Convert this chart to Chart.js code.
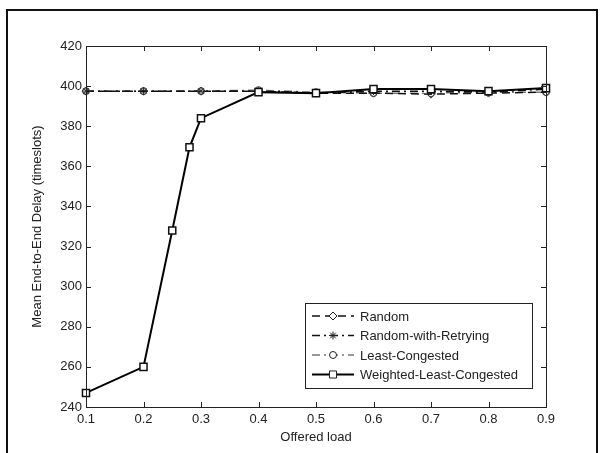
<!DOCTYPE html>
<html>
<head>
<meta charset="UTF-8">
<title>Mean End-to-End Delay</title>
<script src="https://cdn.jsdelivr.net/npm/chart.js"></script>
<style>
  body { margin: 0; background: #fff; }
</style>
</head>
<body>
<canvas id="chart" width="601" height="453"></canvas>
<script>
// offered load values
const loads = [0.1, 0.2, 0.3, 0.4, 0.5, 0.6, 0.7, 0.8, 0.9];
const wlcLoads = [0.1, 0.2, 0.25, 0.28, 0.3, 0.4, 0.5, 0.6, 0.7, 0.8, 0.9];

// mean end-to-end delay (timeslots)
const randomDelay = [397.5, 397.5, 397.5, 397.5, 396.5, 396.5, 396, 396.5, 397];
const retryDelay  = [397.5, 397.5, 397.5, 397.5, 396.5, 397.5, 397.5, 397, 398.5];
const leastDelay  = [397.5, 397.5, 397.5, 398, 397, 396.5, 396.5, 397, 397];
const wlcDelay    = [247, 260, 328, 369.5, 384, 397, 396.5, 398.5, 398.5, 397.5, 399];

const xTicks = [0.1, 0.2, 0.3, 0.4, 0.5, 0.6, 0.7, 0.8, 0.9];
const yTicks = [240, 260, 280, 300, 320, 340, 360, 380, 400, 420];

const seriesNames = ['Random', 'Random-with-Retrying', 'Least-Congested', 'Weighted-Least-Congested'];

const pts = (xs, ys) => xs.map((x, i) => ({ x: x, y: ys[i] }));
const FONT = '"Liberation Sans", Arial, sans-serif';

// white page, figure frame, axes box, inward ticks, legend
const matlabLook = {
  id: 'matlabLook',
  beforeDraw(chart) {
    const ctx = chart.ctx;
    ctx.save();
    ctx.fillStyle = '#fff';
    ctx.fillRect(0, 0, chart.width, chart.height);
    ctx.strokeStyle = '#111';
    ctx.lineWidth = 2;
    ctx.beginPath();
    ctx.moveTo(7, chart.height);
    ctx.lineTo(7, 10);
    ctx.lineTo(597, 10);
    ctx.lineTo(597, chart.height);
    ctx.stroke();
    ctx.restore();
  },
  afterDatasetsDraw(chart) {
    const ctx = chart.ctx;
    const a = chart.chartArea;
    const xs = chart.scales.x, ys = chart.scales.y;
    ctx.save();
    ctx.strokeStyle = '#222';
    ctx.lineWidth = 1;
    ctx.strokeRect(a.left + 0.5, a.top + 0.5, a.right - a.left, a.bottom - a.top);
    ctx.beginPath();
    xs.ticks.forEach(t => {
      const px = Math.round(xs.getPixelForValue(t.value)) + 0.5;
      ctx.moveTo(px, a.bottom); ctx.lineTo(px, a.bottom - 5);
      ctx.moveTo(px, a.top); ctx.lineTo(px, a.top + 5);
    });
    ys.ticks.forEach(t => {
      const py = Math.round(ys.getPixelForValue(t.value)) + 0.5;
      ctx.moveTo(a.left, py); ctx.lineTo(a.left + 5, py);
      ctx.moveTo(a.right, py); ctx.lineTo(a.right - 5, py);
    });
    ctx.stroke();

    // legend
    const bx = a.right - 241, by = a.bottom - 104, bw = 227, bh = 85;
    ctx.fillStyle = '#fff';
    ctx.fillRect(bx, by, bw, bh);
    ctx.strokeStyle = '#222';
    ctx.strokeRect(bx + 0.5, by + 0.5, bw, bh);
    ctx.font = '13px ' + FONT;
    ctx.textBaseline = 'middle';
    chart.data.datasets.forEach((ds, i) => {
      const cy = by + 13 + i * 19.5;
      ctx.strokeStyle = ds.borderColor;
      ctx.lineWidth = ds.borderWidth;
      ctx.setLineDash(ds.borderDash || []);
      ctx.beginPath();
      ctx.moveTo(bx + 7, cy); ctx.lineTo(bx + 49, cy);
      ctx.stroke();
      ctx.setLineDash([]);
      const opts = { pointStyle: ds.pointStyle, radius: ds.pointRadius, rotation: 0, borderWidth: 1 };
      ctx.fillStyle = '#fff';
      ctx.strokeStyle = '#222';
      ctx.lineWidth = 1;
      if (Chart.helpers && Chart.helpers.drawPoint) {
        Chart.helpers.drawPoint(ctx, opts, bx + 28, cy);
      }
      ctx.fillStyle = '#222';
      ctx.fillText(ds.label, bx + 55, cy + 1);
    });
    ctx.restore();
  }
};

new Chart(document.getElementById('chart'), {
  type: 'scatter',
  data: {
    datasets: [
      {
        label: seriesNames[0],
        data: pts(loads, randomDelay),
        showLine: true,
        clip: false,
        borderColor: '#111',
        borderWidth: 1.5,
        borderDash: [8, 5],
        pointStyle: 'rectRot',
        pointRadius: 4,
        pointBorderWidth: 1,
        pointBorderColor: '#333',
        pointBackgroundColor: 'rgba(255,255,255,0)',
        order: 1
      },
      {
        label: seriesNames[1],
        data: pts(loads, retryDelay),
        showLine: true,
        clip: false,
        borderColor: '#111',
        borderWidth: 1.5,
        borderDash: [8, 4, 2, 4],
        pointStyle: 'star',
        pointRadius: 4,
        pointBorderWidth: 1,
        pointBorderColor: '#333',
        pointBackgroundColor: 'rgba(255,255,255,0)',
        order: 2
      },
      {
        label: seriesNames[2],
        data: pts(loads, leastDelay),
        showLine: true,
        clip: false,
        borderColor: '#777',
        borderWidth: 1.5,
        borderDash: [8, 4, 2, 4],
        pointStyle: 'circle',
        pointRadius: 3.5,
        pointBorderWidth: 1,
        pointBorderColor: '#444',
        pointBackgroundColor: 'rgba(255,255,255,0)',
        order: 3
      },
      {
        label: seriesNames[3],
        data: pts(wlcLoads, wlcDelay),
        showLine: true,
        clip: false,
        borderColor: '#000',
        borderWidth: 2,
        pointStyle: 'rect',
        pointRadius: 5,
        pointBorderWidth: 1.5,
        pointBorderColor: '#111',
        pointBackgroundColor: '#fff',
        order: 0
      }
    ]
  },
  options: {
    responsive: false,
    animation: false,
    devicePixelRatio: 1,
    layout: { padding: { left: 7, right: 55, top: 46, bottom: 0 } },
    plugins: {
      legend: { display: false },
      tooltip: { enabled: false }
    },
    scales: {
      x: {
        type: 'linear',
        min: 0.1,
        max: 0.9,
        afterBuildTicks: s => { s.ticks = xTicks.map(v => ({ value: v })); },
        afterFit: s => { s.height = 46; },
        grid: { display: false, drawTicks: false },
        border: { display: false },
        ticks: {
          padding: 5,
          color: '#222',
          font: { family: FONT, size: 13 },
          callback: v => Number(v).toFixed(1)
        },
        title: {
          display: true,
          text: 'Offered load',
          color: '#222',
          font: { family: FONT, size: 13 },
          padding: { top: 0, bottom: 8 }
        }
      },
      y: {
        type: 'linear',
        min: 240,
        max: 420,
        afterBuildTicks: s => { s.ticks = yTicks.map(v => ({ value: v })); },
        afterFit: s => { s.width = 79; },
        grid: { display: false, drawTicks: false },
        border: { display: false },
        ticks: {
          padding: 4,
          color: '#222',
          font: { family: FONT, size: 13 }
        },
        title: {
          display: true,
          text: 'Mean End-to-End Delay (timeslots)',
          color: '#222',
          font: { family: FONT, size: 13 },
          padding: { top: 23, bottom: 0 }
        }
      }
    }
  },
  plugins: [matlabLook]
});
</script>
</body>
</html>
